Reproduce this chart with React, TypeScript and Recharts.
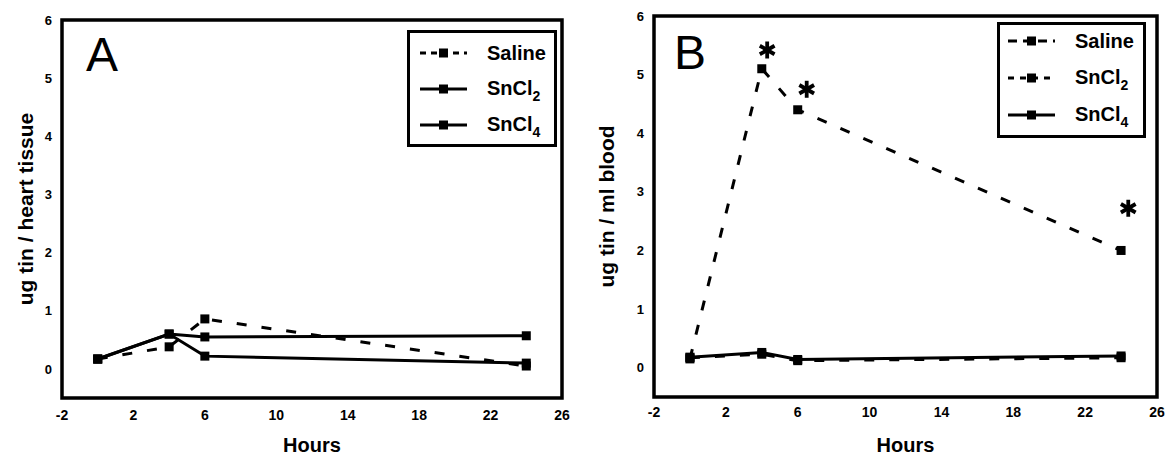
import {
  ComposedChart,
  Line,
  XAxis,
  YAxis,
  ReferenceArea,
  Legend,
} from 'recharts';

// sampling times (hours)
const hours = [0, 4, 6, 24];

// Panel A: ug tin / heart tissue
const heartSaline = [0.17, 0.38, 0.86, 0.05];
const heartSnCl2 = [0.17, 0.6, 0.55, 0.57];
const heartSnCl4 = [0.17, 0.6, 0.22, 0.1];

// Panel B: ug tin / ml blood
const bloodSaline = [0.17, 0.23, 0.12, 0.17];
const bloodSnCl2 = [0.15, 5.1, 4.4, 2.0];
const bloodSnCl4 = [0.18, 0.26, 0.14, 0.2];

// significance markers in panel B
const sigHours = [4.3, 6.5, 24.4];
const sigValues = [5.42, 4.75, 2.72];

const xTicks = [-2, 2, 6, 10, 14, 18, 22, 26];
const yTicks = [0, 1, 2, 3, 4, 5, 6];

const FONT = '"Liberation Sans", Arial, Helvetica, sans-serif';

const heartData = hours.map((h, i) => ({
  hour: h,
  saline: heartSaline[i],
  sncl2: heartSnCl2[i],
  sncl4: heartSnCl4[i],
}));

const bloodData = hours.map((h, i) => ({
  hour: h,
  saline: bloodSaline[i],
  sncl2: bloodSnCl2[i],
  sncl4: bloodSnCl4[i],
}));

const sigData = sigHours.map((h, i) => ({ hour: h, sig: sigValues[i] }));

const SquareDot = (props: any) => {
  const { cx, cy } = props;
  if (cx == null || cy == null) return null;
  return <rect x={cx - 4.5} y={cy - 4.5} width={9} height={9} fill="#000" />;
};

// six-armed asterisk drawn at the point
const AsteriskDot = (props: any) => {
  const { cx, cy } = props;
  if (cx == null || cy == null) return null;
  const r = 8.5;
  const arms = [90, 30, 150].map((a) => {
    const rad = (a * Math.PI) / 180;
    const dx = Math.cos(rad) * r;
    const dy = Math.sin(rad) * r;
    return (
      <line
        key={a}
        x1={cx - dx}
        y1={cy - dy}
        x2={cx + dx}
        y2={cy + dy}
        stroke="#000"
        strokeWidth={3.8}
      />
    );
  });
  return <g>{arms}</g>;
};

type LegendItem = { name: string; sub?: string; dash?: string };

function BoxLegend({ items, padLeft, rowHeight, shiftY }: {
  items: LegendItem[];
  padLeft: number;
  rowHeight: number;
  shiftY: number;
}) {
  return (
    <div
      style={{
        border: '3px solid #000',
        boxSizing: 'border-box',
        width: '100%',
        height: '100%',
        background: '#fff',
        paddingLeft: padLeft,
        fontFamily: FONT,
        color: '#000',
      }}
    >
      <div style={{ position: 'relative', top: shiftY }}>
        {items.map((it) => (
          <div
            key={it.name + (it.sub || '')}
            style={{ display: 'flex', alignItems: 'center', height: rowHeight }}
          >
            <svg width={47} height={12} style={{ flex: 'none' }}>
              <line
                x1={0}
                x2={47}
                y1={6}
                y2={6}
                stroke="#000"
                strokeWidth={3}
                strokeDasharray={it.dash}
              />
              <rect x={19} y={1.5} width={9} height={9} fill="#000" />
            </svg>
            <span style={{ marginLeft: 20, fontSize: 20, fontWeight: 700, lineHeight: '20px' }}>
              {it.name}
              {it.sub && (
                <span style={{ fontSize: 14, position: 'relative', top: 6 }}>{it.sub}</span>
              )}
            </span>
          </div>
        ))}
      </div>
    </div>
  );
}

const tickStyle = { fontSize: 13, fontWeight: 700, fill: '#000', fontFamily: FONT };

function Panel({
  data,
  dashed,
  yLabel,
  yAxisWidth,
  rightMargin,
  topMargin,
  xHeight,
  yLabelOffset,
  xTickMargin,
  legendItems,
  legendBox,
  withSig,
}: any) {
  return (
    <ComposedChart
      width={583}
      height={455}
      data={data}
      margin={{ top: topMargin, right: rightMargin, bottom: 0, left: 0 }}
      style={{ fontFamily: FONT }}
    >
      <XAxis
        dataKey="hour"
        type="number"
        domain={[-2, 26]}
        ticks={xTicks}
        tickLine={false}
        axisLine={false}
        tickMargin={xTickMargin}
        height={xHeight}
        tick={{ ...tickStyle, fontSize: 14 }}
        allowDataOverflow
        label={{
          value: 'Hours',
          position: 'insideBottom',
          offset: 3,
          style: { fontSize: 20, fontWeight: 700, fill: '#000', fontFamily: FONT },
        }}
      />
      <YAxis
        type="number"
        domain={[-0.5, 6]}
        ticks={yTicks}
        tickLine={false}
        axisLine={false}
        tickMargin={4}
        width={yAxisWidth}
        tick={tickStyle}
        allowDataOverflow
        label={{
          value: yLabel,
          angle: -90,
          position: 'insideLeft',
          offset: yLabelOffset,
          style: { textAnchor: 'middle', fontSize: 21, fontWeight: 700, fill: '#000', fontFamily: FONT },
        }}
      />
      <ReferenceArea
        x1={-2}
        x2={26}
        y1={-0.5}
        y2={6}
        fill="none"
        stroke="#000"
        strokeWidth={3.5}
        ifOverflow="visible"
      />
      <Line
        dataKey="saline"
        stroke="#000"
        strokeWidth={3}
        strokeDasharray="10 15"
        dot={<SquareDot />}
        isAnimationActive={false}
      />
      <Line
        dataKey="sncl2"
        stroke="#000"
        strokeWidth={3}
        strokeDasharray={dashed ? '10 15' : undefined}
        dot={<SquareDot />}
        isAnimationActive={false}
      />
      <Line
        dataKey="sncl4"
        stroke="#000"
        strokeWidth={3}
        dot={<SquareDot />}
        isAnimationActive={false}
      />
      {withSig && (
        <Line
          data={sigData}
          dataKey="sig"
          stroke="none"
          dot={<AsteriskDot />}
          legendType="none"
          isAnimationActive={false}
        />
      )}
      <Legend
        layout="horizontal"
        align="center"
        verticalAlign="middle"
        wrapperStyle={{
          position: 'absolute',
          left: legendBox.left,
          top: legendBox.top,
          width: legendBox.width,
          height: legendBox.height,
        }}
        content={() => (
          <BoxLegend
            items={legendItems}
            padLeft={legendBox.padLeft}
            shiftY={legendBox.shiftY}
            rowHeight={legendBox.rowHeight}
          />
        )}
      />
    </ComposedChart>
  );
}

export default function App() {
  return (
    <div
      style={{
        position: 'fixed',
        left: 0,
        top: 0,
        width: 1166,
        height: 455,
        background: '#fff',
        fontFamily: FONT,
        color: '#000',
      }}
    >
      <div style={{ position: 'absolute', left: 0, top: 0 }}>
        <Panel
          data={heartData}
          dashed={false}
          yLabel="ug tin / heart tissue"
          yAxisWidth={62}
          rightMargin={21}
          topMargin={20}
          xHeight={57}
          yLabelOffset={26}
          xTickMargin={6}
          withSig={false}
          legendItems={[
            { name: 'Saline', dash: '6 5' },
            { name: 'SnCl', sub: '2' },
            { name: 'SnCl', sub: '4' },
          ]}
          legendBox={{ left: 407, top: 30, width: 150, height: 117, padLeft: 10, shiftY: 2, rowHeight: 36 }}
        />
      </div>
      <div style={{ position: 'absolute', left: 583, top: 0 }}>
        <Panel
          data={bloodData}
          dashed
          yLabel="ug tin / ml blood"
          yAxisWidth={71}
          rightMargin={9}
          topMargin={16}
          xHeight={58}
          yLabelOffset={24}
          xTickMargin={4}
          withSig
          legendItems={[
            { name: 'Saline', dash: '9 6' },
            { name: 'SnCl', sub: '2', dash: '6 6' },
            { name: 'SnCl', sub: '4' },
          ]}
          legendBox={{ left: 414, top: 22, width: 149, height: 116, padLeft: 8, shiftY: -3, rowHeight: 37 }}
        />
      </div>
      <div
        style={{ position: 'absolute', left: 86, top: 31, fontSize: 48, lineHeight: '48px' }}
      >
        A
      </div>
      <div
        style={{ position: 'absolute', left: 674, top: 29, fontSize: 48, lineHeight: '48px' }}
      >
        B
      </div>
    </div>
  );
}
